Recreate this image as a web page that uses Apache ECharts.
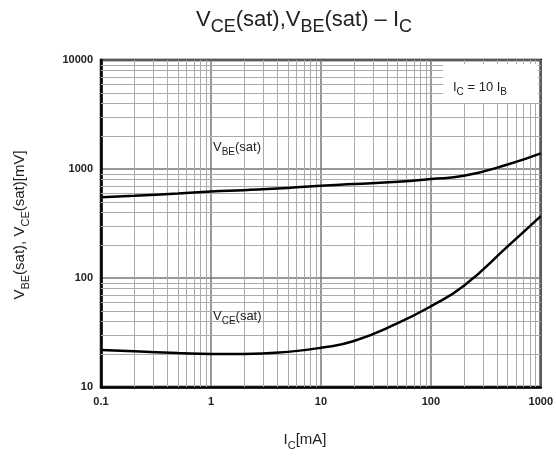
<!DOCTYPE html>
<html>
<head>
<meta charset="utf-8">
<script src="https://cdn.jsdelivr.net/npm/echarts@6/dist/echarts.min.js"></script>
<style>html,body{margin:0;padding:0;background:#fff;}#c{width:556px;height:457px;}</style>
</head>
<body>
<div id="c"></div>
<script>
// Collector current Ic [mA]
const icMA = [0.1, 0.2, 0.5, 1, 2, 5, 10, 20, 50, 100, 200, 500, 1000];
// VBE(sat) [mV]
const vbeSat = [552, 568, 595, 621, 640, 670, 702, 728, 765, 810, 866, 1100, 1390];
// VCE(sat) [mV]
const vceSat = [21.9, 21.3, 20.5, 20.1, 20.1, 21.0, 22.9, 26.4, 38.5, 55, 85, 195, 370];
// tick labels
const xTickLabels = ['0.1', '1', '10', '100', '1000'];
const yTickLabels = ['10', '100', '1000', '10000'];
const xDecades = [0.1, 1, 10, 100];
const yDecades = [10, 100, 1000];
const minorMult = [2, 3, 4, 5, 6, 7, 8, 9];

const FONT = '"Liberation Sans", Arial, sans-serif';
const chart = echarts.init(document.getElementById('c'));

function nearestLabel(v, labels) {
  let best = labels[0], bd = Infinity;
  labels.forEach(l => { const d = Math.abs(Math.log10(+l) - Math.log10(v)); if (d < bd) { bd = d; best = l; } });
  return best;
}

const minorX = [];
xDecades.forEach(d => minorMult.forEach(m => minorX.push({ xAxis: +(d * m).toPrecision(6) })));
const minorY = [];
yDecades.forEach(d => minorMult.forEach(m => minorY.push({ yAxis: +(d * m).toPrecision(6) })));

const sub = { fontSize: 10, verticalAlign: 'bottom', padding: [0, 0, -4, 0], fontFamily: FONT, color: '#222' };

chart.setOption({
  animation: false,
  backgroundColor: '#fff',
  grid: { left: 101, right: 14, top: 60, bottom: 70, show: true, borderColor: '#000', borderWidth: 2.5, backgroundColor: 'transparent' },
  xAxis: {
    type: 'log', logBase: 10, min: 0.1, max: 1000,
    axisLine: { show: true, lineStyle: { color: '#000', width: 2.5 } },
    axisTick: { show: false },
    axisLabel: { formatter: v => nearestLabel(v, xTickLabels), fontFamily: FONT, fontWeight: 'bold', fontSize: 11, color: '#222', margin: 9 },
    splitLine: { show: true, lineStyle: { color: '#777', width: 1.5 } }
  },
  yAxis: {
    type: 'log', logBase: 10, min: 10, max: 10000,
    axisLine: { show: true, lineStyle: { color: '#000', width: 2.5 } },
    axisTick: { show: false },
    axisLabel: { formatter: v => nearestLabel(v, yTickLabels), fontFamily: FONT, fontWeight: 'bold', fontSize: 11, color: '#222', margin: 8 },
    splitLine: { show: true, lineStyle: { color: '#777', width: 1.5 } }
  },
  series: [
    {
      type: 'line', data: [], silent: true, z: 1,
      markLine: {
        silent: true, symbol: ['none', 'none'], label: { show: false },
        lineStyle: { color: '#aaa', width: 1, type: 'solid' },
        emphasis: { disabled: true },
        data: minorX.concat(minorY)
      }
    },
    {
      name: 'VBE(sat)', type: 'line', smooth: 0.5, symbol: 'none', z: 5,
      lineStyle: { color: '#000', width: 2.5 },
      data: icMA.map((x, i) => [x, vbeSat[i]])
    },
    {
      name: 'VCE(sat)', type: 'line', smooth: 0.5, symbol: 'none', z: 5,
      lineStyle: { color: '#000', width: 2.5 },
      data: icMA.map((x, i) => [x, vceSat[i]])
    }
  ],
  graphic: [
    { type: 'rect', shape: { x: 443, y: 64, width: 95, height: 39 }, style: { fill: '#fff' }, z: 10 },
    { type: 'text', x: 453, y: 87, z: 11, style: { text: 'I{s|C} = 10 I{s|B}', textVerticalAlign: 'middle', font: '13px ' + FONT, fill: '#222', rich: { s: sub } } },
    { type: 'text', x: 213, y: 147, z: 11, style: { text: 'V{s|BE}(sat)', textVerticalAlign: 'middle', font: '13px ' + FONT, fill: '#222', rich: { s: sub } } },
    { type: 'text', x: 213, y: 316, z: 11, style: { text: 'V{s|CE}(sat)', textVerticalAlign: 'middle', font: '13px ' + FONT, fill: '#222', rich: { s: sub } } },
    { type: 'text', x: 304, y: 20, z: 11, style: { text: 'V{t|CE}(sat),V{t|BE}(sat) – I{t|C}', textAlign: 'center', textVerticalAlign: 'middle', font: '22px ' + FONT, fill: '#222', rich: { t: { fontSize: 18, verticalAlign: 'bottom', padding: [0, 0, -5, 0], fontFamily: FONT, color: '#222' } } } },
    { type: 'text', x: 305, y: 440, z: 11, style: { text: 'I{s|C}[mA]', textAlign: 'center', textVerticalAlign: 'middle', font: '15px ' + FONT, fill: '#222', rich: { s: { fontSize: 11, verticalAlign: 'bottom', padding: [0, 0, -4, 0], fontFamily: FONT, color: '#222' } } } },
    { type: 'text', x: 20, y: 225, rotation: Math.PI / 2, z: 11, style: { text: 'V{s|BE}(sat), V{s|CE}(sat)[mV]', textAlign: 'center', textVerticalAlign: 'middle', font: '15px ' + FONT, fill: '#222', rich: { s: { fontSize: 11, verticalAlign: 'bottom', padding: [0, 0, -4, 0], fontFamily: FONT, color: '#222' } } } }
  ]
});
</script>
</body>
</html>
